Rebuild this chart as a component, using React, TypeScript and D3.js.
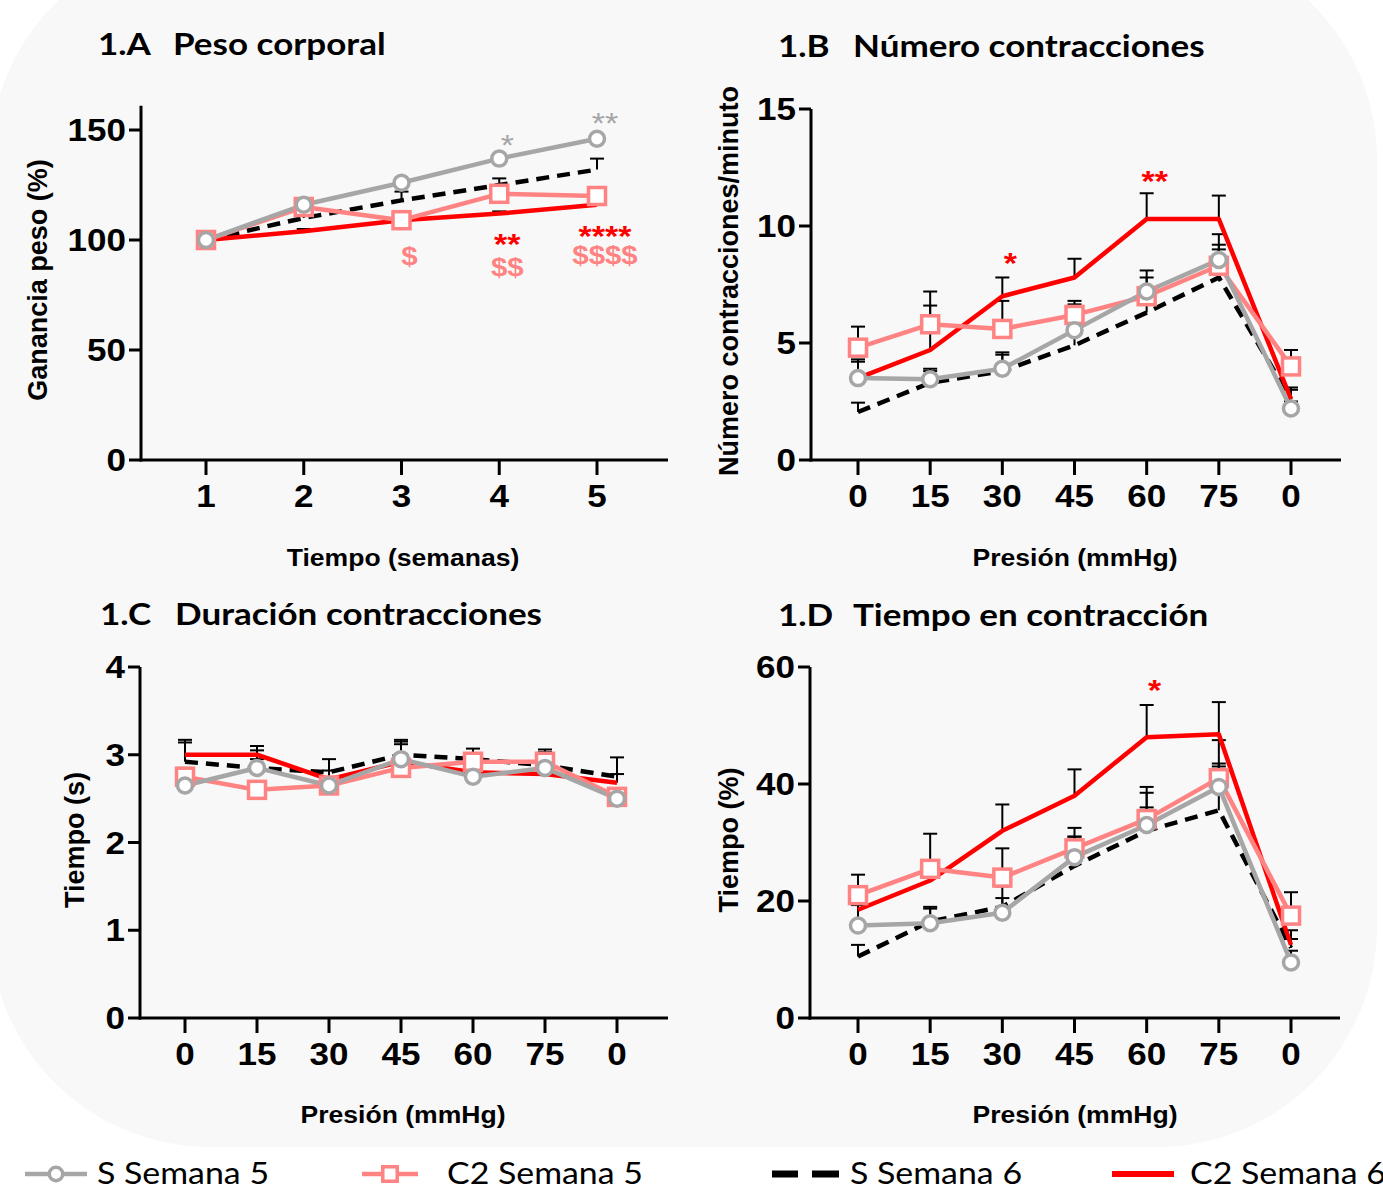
import React from 'react';
import * as d3 from 'd3';

const W = 1383;
const H = 1191;
const SX = 1.13; // the source picture is stretched a bit horizontally

// categories
const weeks = ['1', '2', '3', '4', '5'];
const pressures = ['0', '15', '30', '45', '60', '75', '0'];

// 1.A Peso corporal (%)
const pesoS5 = [100, 116, 126, 137, 146];
const pesoC5 = [100, 115, 109, 121, 120];
const pesoS6 = [100, 110, 118, 125, 132];
const pesoC6 = [100, 104, 109, 112, 116];
const pesoS5Err = [0, 1, 1, 1, 1];
const pesoC5Err = [0, 1, 1, 3, 3];
const pesoS6Err = [0, 2, 4, 3, 5];
const pesoC6Err = [0, 1, 1, 1, 1];

// 1.B Número contracciones/minuto
const numS5 = [3.5, 3.45, 3.9, 5.55, 7.2, 8.55, 2.2];
const numC5 = [4.8, 5.8, 5.6, 6.2, 7.0, 8.3, 4.0];
const numS6 = [2.05, 3.3, 3.8, 4.9, 6.3, 7.8, 2.6];
const numC6 = [3.5, 4.7, 7.0, 7.8, 10.3, 10.3, 2.6];
const numS5Err = [0.7, 0.45, 0.7, 1.1, 0.9, 1.1, 0.3];
const numC5Err = [0.9, 0.8, 1.2, 0.6, 0.8, 0.7, 0.7];
const numS6Err = [0.4, 0.5, 0.7, 1.0, 1.0, 1.4, 0.4];
const numC6Err = [0.8, 2.5, 0.8, 0.8, 1.1, 1.0, 0.5];

// 1.C Duración contracciones (s)
const durS5 = [2.65, 2.85, 2.65, 2.95, 2.75, 2.85, 2.5];
const durC5 = [2.75, 2.6, 2.65, 2.85, 2.92, 2.92, 2.52];
const durS6 = [2.92, 2.85, 2.8, 3.0, 2.95, 2.88, 2.75];
const durC6 = [3.0, 3.0, 2.72, 2.92, 2.8, 2.78, 2.68];
const durS5Err = [0.1, 0.1, 0.05, 0.22, 0.1, 0.1, 0.1];
const durC5Err = [0.1, 0.1, 0.05, 0.1, 0.1, 0.14, 0.1];
const durS6Err = [0.22, 0.2, 0.15, 0.15, 0.12, 0.15, 0.22];
const durC6Err = [0.17, 0.1, 0.1, 0.2, 0.1, 0.1, 0.1];

// 1.D Tiempo en contracción (%)
const tieS5 = [15.8, 16.2, 18, 27.5, 33, 39.5, 9.5];
const tieC5 = [21, 25.5, 24, 29, 34, 41, 17.5];
const tieS6 = [10.5, 16.5, 19, 26, 32, 35.5, 12];
const tieC6 = [18.5, 23.5, 32, 38, 48, 48.5, 12.5];
const tieS5Err = [3.5, 2.5, 2.5, 3.5, 5.5, 3.5, 2];
const tieC5Err = [3.5, 6, 5, 3.5, 5.5, 2.5, 4];
const tieS6Err = [2, 2.5, 3.5, 5, 4, 12, 1.5];
const tieC6Err = [1, 3.5, 4.5, 4.5, 5.5, 5.5, 2.5];

// significance marks: category index, value at text baseline, text, series
const notesA = [
  { i: 3, v: 138.6, t: '*', s: 's5' },
  { i: 4, v: 148.6, t: '**', s: 's5' },
  { i: 2, v: 88.6, t: '$', s: 'c5' },
  { i: 3, v: 93.6, t: '**', s: 'c6' },
  { i: 3, v: 83.6, t: '$$', s: 'c5' },
  { i: 4, v: 97.2, t: '****', s: 'c6' },
  { i: 4, v: 89.0, t: '$$$$', s: 'c5' },
];
const notesB = [
  { i: 2, v: 8.0, t: '*', s: 'c6' },
  { i: 4, v: 11.5, t: '**', s: 'c6' },
];
const notesC: { i: number; v: number; t: string; s: string }[] = [];
const notesD = [{ i: 4, v: 54.4, t: '*', s: 'c6' }];

const legendKeys = ['s5', 'c5', 's6', 'c6'];
const legendLabels = ['S Semana 5', 'C2 Semana 5', 'S Semana 6', 'C2 Semana 6'];

const STYLE: Record<string, any> = {
  s5: { color: '#a6a6a6', marker: 'circle', dash: null },
  c5: { color: '#ff8383', marker: 'square', dash: null },
  s6: { color: '#000000', marker: null, dash: '13,8' },
  c6: { color: '#ff0000', marker: null, dash: null },
};
const NOTE_COLOR: Record<string, string> = { s5: '#a6a6a6', c5: '#ff8383', c6: '#ff0000' };

const TITLE_FONT = 'Lato, "Open Sans", sans-serif';
const AXIS_FONT = '"Liberation Sans", Arial, sans-serif';

const panels = [
  {
    id: '1.A', name: 'Peso corporal', cats: weeks, yMax: 150, yStep: 50, axisTop: 161,
    yLabel: 'Ganancia peso (%)', xLabel: 'Tiempo (semanas)',
    values: { s6: pesoS6, c6: pesoC6, c5: pesoC5, s5: pesoS5 },
    errs: { s6: pesoS6Err, c6: pesoC6Err, c5: pesoC5Err, s5: pesoS5Err },
    notes: notesA,
    box: { left: 141, right: 668, top: 130, bottom: 460, x0: 206, x1: 597 },
    titleAt: [98, 55], yLabelAt: [47, 280], xLabelAt: [403, 566],
  },
  {
    id: '1.B', name: 'Número contracciones', cats: pressures, yMax: 15, yStep: 5, axisTop: 15,
    yLabel: 'Número contracciones/minuto', xLabel: 'Presión (mmHg)',
    values: { s6: numS6, c6: numC6, c5: numC5, s5: numS5 },
    errs: { s6: numS6Err, c6: numC6Err, c5: numC5Err, s5: numS5Err },
    notes: notesB,
    box: { left: 811, right: 1341, top: 109, bottom: 460, x0: 858, x1: 1291 },
    titleAt: [778, 57], yLabelAt: [738, 281], xLabelAt: [1075, 566],
  },
  {
    id: '1.C', name: 'Duración contracciones', cats: pressures, yMax: 4, yStep: 1, axisTop: 4,
    yLabel: 'Tiempo (s)', xLabel: 'Presión (mmHg)',
    values: { s6: durS6, c6: durC6, c5: durC5, s5: durS5 },
    errs: { s6: durS6Err, c6: durC6Err, c5: durC5Err, s5: durS5Err },
    notes: notesC,
    box: { left: 140, right: 668, top: 667, bottom: 1018, x0: 185, x1: 617 },
    titleAt: [100, 625], yLabelAt: [84, 840], xLabelAt: [403, 1123],
  },
  {
    id: '1.D', name: 'Tiempo en contracción', cats: pressures, yMax: 60, yStep: 20, axisTop: 60,
    yLabel: 'Tiempo (%)', xLabel: 'Presión (mmHg)',
    values: { s6: tieS6, c6: tieC6, c5: tieC5, s5: tieS5 },
    errs: { s6: tieS6Err, c6: tieC6Err, c5: tieC5Err, s5: tieS5Err },
    notes: notesD,
    box: { left: 810, right: 1340, top: 667, bottom: 1018, x0: 858, x1: 1291 },
    titleAt: [778, 626], yLabelAt: [738, 840], xLabelAt: [1075, 1123],
  },
];

// horizontal text, stretched like the source
const SText = ({ x, y, anchor = 'start', size, weight = 'bold', fill = '#000', family = AXIS_FONT, children }: any) => (
  <text
    transform={`translate(${x},${y}) scale(${SX},1)`}
    textAnchor={anchor}
    fontSize={size}
    fontWeight={weight}
    fontFamily={family}
    fill={fill}
  >
    {children}
  </text>
);

const Marker = ({ kind, x, y, color, size = 1 }: any) => {
  if (kind === 'circle')
    return <circle cx={x} cy={y} r={7.5 * size} fill="#fff" stroke={color} strokeWidth={3.5} />;
  if (kind === 'square')
    return <rect x={x - 8.5 * size} y={y - 8.5 * size} width={17 * size} height={17 * size} fill="#fff" stroke={color} strokeWidth={3.5} />;
  return null;
};

const Panel = ({ p }: any) => {
  const b = p.box;
  const x = d3.scalePoint<number>().domain(d3.range(p.cats.length)).range([b.x0, b.x1]);
  const y = d3.scaleLinear().domain([0, p.yMax]).range([b.bottom, b.top]);
  const yTicks = d3.range(0, p.yMax + p.yStep / 2, p.yStep);
  const order = ['s6', 'c6', 'c5', 's5'];
  const line = d3.line<number>().x((_, i) => x(i)!).y(d => y(d));

  return (
    <g>
      <SText x={p.titleAt[0]} y={p.titleAt[1]} size={31} family={TITLE_FONT}>{p.id}</SText>
      <SText x={p.titleAt[0] + 75} y={p.titleAt[1]} size={31} family={TITLE_FONT}>{p.name}</SText>

      {/* error bars */}
      {order.map(k =>
        p.values[k].map((v: number, i: number) => {
          const e = p.errs[k][i];
          if (!e) return null;
          const cx = x(i)!;
          return (
            <g key={`${k}-e${i}`} stroke="#000" strokeWidth={2}>
              <line x1={cx} x2={cx} y1={y(v)} y2={y(v + e)} />
              <line x1={cx - 7} x2={cx + 7} y1={y(v + e)} y2={y(v + e)} />
            </g>
          );
        })
      )}

      {/* lines */}
      {order.map(k => (
        <path
          key={k}
          d={line(p.values[k]) || ''}
          fill="none"
          stroke={STYLE[k].color}
          strokeWidth={4.5}
          strokeDasharray={STYLE[k].dash || undefined}
          strokeLinejoin="round"
        />
      ))}

      {/* markers */}
      {order.map(k =>
        STYLE[k].marker
          ? p.values[k].map((v: number, i: number) => (
              <Marker key={`${k}-m${i}`} kind={STYLE[k].marker} x={x(i)} y={y(v)} color={STYLE[k].color} />
            ))
          : null
      )}

      {/* axes */}
      <g stroke="#000" strokeWidth={3}>
        <line x1={b.left} x2={b.left} y1={y(p.axisTop)} y2={b.bottom + 1.5} />
        <line x1={b.left - 1.5} x2={b.right} y1={b.bottom} y2={b.bottom} />
        {yTicks.map(t => (
          <line key={`yt${t}`} x1={b.left - 12} x2={b.left} y1={y(t)} y2={y(t)} />
        ))}
        {p.cats.map((_: string, i: number) => (
          <line key={`xt${i}`} x1={x(i)} x2={x(i)} y1={b.bottom} y2={b.bottom + 15} />
        ))}
      </g>
      {yTicks.map(t => (
        <SText key={`yl${t}`} x={b.left - 15} y={y(t) + 11} anchor="end" size={31}>
          {t}
        </SText>
      ))}
      {p.cats.map((c: string, i: number) => (
        <SText key={`xl${i}`} x={x(i)} y={b.bottom + 47} anchor="middle" size={31}>
          {c}
        </SText>
      ))}

      <SText x={p.xLabelAt[0]} y={p.xLabelAt[1]} anchor="middle" size={23.5}>{p.xLabel}</SText>
      <text
        transform={`translate(${p.yLabelAt[0]},${p.yLabelAt[1]}) rotate(-90)`}
        textAnchor="middle"
        fontSize={27}
        fontWeight="bold"
        fontFamily={AXIS_FONT}
      >
        {p.yLabel}
      </text>

      {/* significance marks */}
      {p.notes.map((n: any, j: number) => (
        <SText
          key={`n${j}`}
          x={x(n.i)! + 8}
          y={y(n.v)}
          anchor="middle"
          size={n.t[0] === '$' ? 26 : 30}
          weight={n.s === 's5' ? 'normal' : 'bold'}
          fill={NOTE_COLOR[n.s]}
        >
          {n.t}
        </SText>
      ))}
    </g>
  );
};

const Legend = () => {
  const starts = [25, 362, 772, 1112];
  const textAt = [97, 447, 850, 1190];
  const cy = 1174;
  return (
    <g>
      {legendKeys.map((k, i) => {
        const st = STYLE[k];
        const x0 = starts[i];
        const len = k === 'c5' ? 56 : 62;
        return (
          <g key={k}>
            {k === 's6' ? (
              <g stroke="#000" strokeWidth={7}>
                <line x1={x0} x2={x0 + 26} y1={cy} y2={cy} />
                <line x1={x0 + 40} x2={x0 + 67} y1={cy} y2={cy} />
              </g>
            ) : (
              <line x1={x0} x2={x0 + len} y1={cy} y2={cy} stroke={st.color} strokeWidth={k === 'c6' ? 6 : 4.5} />
            )}
            {st.marker && <Marker kind={st.marker} x={x0 + len / 2} y={cy} color={st.color} size={k === 'c5' ? 0.85 : 0.9} />}
            <SText x={textAt[i]} y={cy + 10} size={30} weight="normal" family={TITLE_FONT}>
              {legendLabels[i]}
            </SText>
          </g>
        );
      })}
    </g>
  );
};

export default function App() {
  return (
    <svg width={W} height={H} style={{ position: 'absolute', left: 0, top: 0, background: '#fff' }}>
      <rect x={-10} y={-60} width={1387} height={1207} rx={220} ry={220} fill="#f8f8f8" />
      {panels.map(p => (
        <Panel key={p.id} p={p} />
      ))}
      <Legend />
    </svg>
  );
}
